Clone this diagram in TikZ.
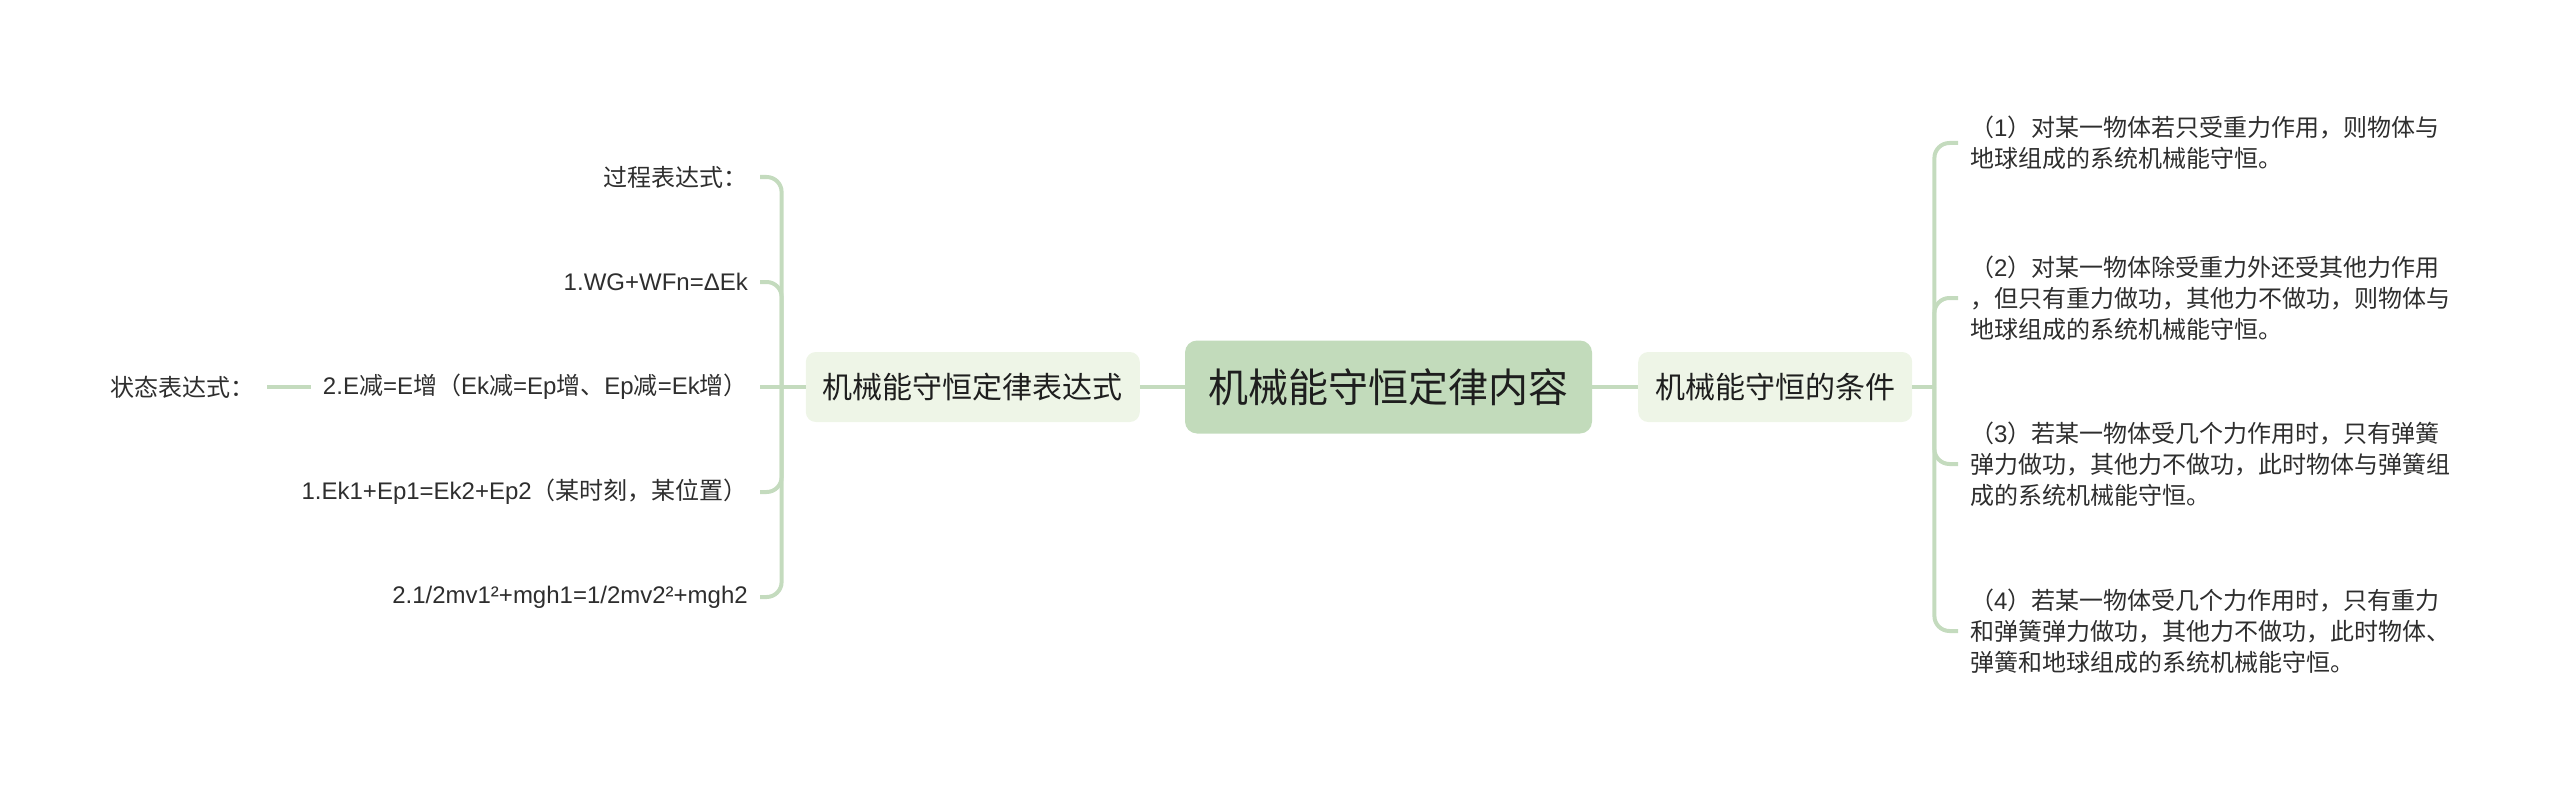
\documentclass[tikz,border=0pt]{standalone}
\usepackage{fontspec}
\setmainfont{Noto Sans CJK SC}
\newfontfamily\lat{Liberation Sans}
\definecolor{lineC}{HTML}{C4DBBE}
\definecolor{rootC}{HTML}{C2DBBB}
\definecolor{subC}{HTML}{EEF5E7}
\definecolor{txtD}{HTML}{1E1E1E}
\definecolor{txtC}{HTML}{2E2E2E}
\begin{document}
\begin{tikzpicture}[x=1pt,y=-1pt,
  conn/.style={draw=lineC, line width=4pt},
  curv/.style={conn, rounded corners=15pt},
  rootbox/.style={fill=rootC, rounded corners=12pt, minimum width=407pt, minimum height=93pt, inner sep=0pt, font=\fontsize{40}{48}\selectfont, text=txtD},
  subbox/.style={fill=subC, rounded corners=10pt, minimum height=70pt, inner xsep=17pt, inner ysep=0pt, font=\fontsize{30}{36}\selectfont, text=txtD},
  leaf/.style={inner xsep=12pt, inner ysep=2pt, align=left, font=\fontsize{24}{31}\selectfont, text=txtC}]
\useasboundingbox (0,0) rectangle (2560,789);

% main nodes
\node[rootbox] (root) at (1388.5,387) {机械能守恒定律内容};
\node[subbox, anchor=east] (L) at (1140,387) {机械能守恒定律表达式};
\node[subbox, anchor=west] (R) at (1638,387) {机械能守恒的条件};
\draw[conn] (root.west) -- (L.east);
\draw[conn] (root.east) -- (R.west);

% left branch
\coordinate (Ls) at ([xshift=-24pt]L.west);
\node[leaf, anchor=east] (e0) at (760,177) {过程表达式：};
\node[leaf, anchor=east] (e1) at (760,282) {{\lat 1.WG+WFn=ΔEk}};
\node[leaf, anchor=east] (e2) at (760,387) {{\lat 2.E}减{\lat =E}增（{\lat Ek}减{\lat =Ep}增、{\lat Ep}减{\lat =Ek}增）};
\node[leaf, anchor=east] (e3) at (760,492) {{\lat 1.Ek1+Ep1=Ek2+Ep2}（某时刻，某位置）};
\node[leaf, anchor=east] (e4) at (760,597) {{\lat 2.1/2mv1²+mgh1=1/2mv2²+mgh2}};
\node[leaf, anchor=east] (s0) at ([xshift=-44pt]e2.west) {状态表达式：};

\draw[conn] (L.west) -- (Ls);
\draw[curv] (Ls) |- (e0.east);
\draw[curv] (Ls) |- (e1.east);
\draw[conn] (Ls) -- (e2.east);
\draw[curv] (Ls) |- (e3.east);
\draw[curv] (Ls) |- (e4.east);
\draw[conn] (e2.west) -- (s0.east);

% right branch
\coordinate (Rs) at ([xshift=22pt]R.east);
\node[leaf, anchor=west] (c1) at (1958,143) {（{\lat 1}）对某一物体若只受重力作用，则物体与\\地球组成的系统机械能守恒。};
\node[leaf, anchor=west] (c2) at (1958,298) {（{\lat 2}）对某一物体除受重力外还受其他力作用\\，但只有重力做功，其他力不做功，则物体与\\地球组成的系统机械能守恒。};
\node[leaf, anchor=west] (c3) at (1958,464) {（{\lat 3}）若某一物体受几个力作用时，只有弹簧\\弹力做功，其他力不做功，此时物体与弹簧组\\成的系统机械能守恒。};
\node[leaf, anchor=west] (c4) at (1958,631) {（{\lat 4}）若某一物体受几个力作用时，只有重力\\和弹簧弹力做功，其他力不做功，此时物体、\\弹簧和地球组成的系统机械能守恒。};

\draw[conn] (R.east) -- (Rs);
\draw[curv] (Rs) |- (c1.west);
\draw[curv] (Rs) |- (c2.west);
\draw[curv] (Rs) |- (c3.west);
\draw[curv] (Rs) |- (c4.west);
\end{tikzpicture}
\end{document}
